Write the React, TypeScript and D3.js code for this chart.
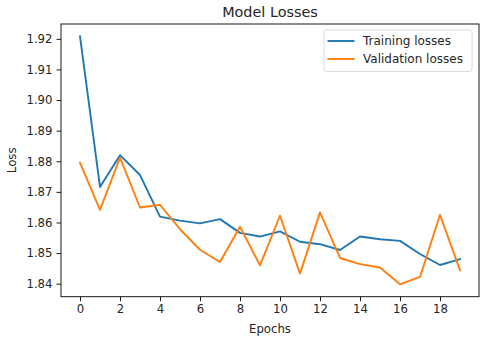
import React, { useEffect, useRef } from 'react';
import * as d3 from 'd3';

const epochs = d3.range(0, 20);
const trainingLosses = [
  1.9208, 1.8716, 1.882, 1.8755, 1.8619, 1.8606, 1.8597, 1.8611, 1.8566, 1.8554,
  1.8571, 1.8537, 1.8529, 1.851, 1.8554, 1.8545, 1.854, 1.8497, 1.8461, 1.848,
];
const validationLosses = [
  1.8795, 1.8641, 1.8812, 1.8649, 1.8658, 1.8578, 1.8511, 1.8471, 1.8586, 1.846,
  1.8622, 1.8433, 1.8633, 1.8484, 1.8464, 1.8453, 1.8398, 1.8422, 1.8625, 1.8444,
];
const xTicks = [0, 2, 4, 6, 8, 10, 12, 14, 16, 18];
const yTicks = [1.84, 1.85, 1.86, 1.87, 1.88, 1.89, 1.9, 1.91, 1.92];
const seriesNames = ['Training losses', 'Validation losses'];
const seriesColors = ['#1f77b4', '#ff7f0e'];

export default function App() {
  const svgRef = useRef<SVGSVGElement>(null);

  useEffect(() => {
    const width = 492;
    const height = 341;
    const margin = { top: 24, right: 13, bottom: 44.3, left: 61 };
    const innerW = width - margin.left - margin.right;
    const innerH = height - margin.top - margin.bottom;
    const font = 'DejaVu Sans, sans-serif';

    const svg = d3.select(svgRef.current);
    svg.selectAll('*').remove();
    svg.attr('width', width).attr('height', height);

    svg.append('rect').attr('width', width).attr('height', height).attr('fill', '#fff');

    // matplotlib style 5% margins
    const allVals = trainingLosses.concat(validationLosses);
    const yMin = d3.min(allVals)!;
    const yMax = d3.max(allVals)!;
    const yPad = (yMax - yMin) * 0.05;
    const xPad = 19 * 0.05;

    const x = d3.scaleLinear().domain([-xPad, 19 + xPad]).range([0, innerW]);
    const y = d3.scaleLinear().domain([yMin - yPad, yMax + yPad]).range([innerH, 0]);

    const g = svg.append('g').attr('transform', `translate(${margin.left},${margin.top})`);

    // Axes
    const xAxis = g.append('g')
      .attr('transform', `translate(0,${innerH})`)
      .call(d3.axisBottom(x).tickValues(xTicks).tickSize(4.5).tickPadding(4).tickFormat(d3.format('d')));
    const yAxis = g.append('g')
      .call(d3.axisLeft(y).tickValues(yTicks).tickSize(4.5).tickPadding(4).tickFormat(d3.format('.2f')));

    [xAxis, yAxis].forEach(ax => {
      ax.select('.domain').remove();
      ax.selectAll('line').attr('stroke', '#000').attr('stroke-width', 0.9);
      ax.selectAll('text')
        .attr('fill', '#262626')
        .attr('font-family', font)
        .attr('font-size', 11.7);
    });

    // Lines
    const series = [trainingLosses, validationLosses];
    series.forEach((vals, i) => {
      const line = d3.line<number>()
        .x((_, j) => x(epochs[j]))
        .y(d => y(d));
      g.append('path')
        .datum(vals)
        .attr('fill', 'none')
        .attr('stroke', seriesColors[i])
        .attr('stroke-width', 1.9)
        .attr('stroke-linejoin', 'round')
        .attr('stroke-linecap', 'square')
        .attr('d', line);
    });

    // Frame
    g.append('rect')
      .attr('width', innerW)
      .attr('height', innerH)
      .attr('fill', 'none')
      .attr('stroke', '#000')
      .attr('stroke-width', 0.9);

    // Legend
    const legend = g.append('g').attr('transform', `translate(${innerW - 155},${6})`);
    legend.append('rect')
      .attr('width', 148)
      .attr('height', 41.5)
      .attr('rx', 2.5)
      .attr('fill', '#fff')
      .attr('fill-opacity', 0.8)
      .attr('stroke', '#d6d6d6')
      .attr('stroke-width', 0.9);
    seriesNames.forEach((name, i) => {
      const row = legend.append('g').attr('transform', `translate(0,${11 + i * 18})`);
      row.append('line')
        .attr('x1', 3.5).attr('x2', 30.5)
        .attr('stroke', seriesColors[i])
        .attr('stroke-width', 1.9);
      row.append('text')
        .attr('x', 39)
        .attr('dy', '0.35em')
        .attr('font-family', font)
        .attr('font-size', 12)
        .attr('fill', '#262626')
        .text(name);
    });

    // Title and axis labels
    svg.append('text')
      .attr('x', margin.left + innerW / 2)
      .attr('y', 17)
      .attr('text-anchor', 'middle')
      .attr('font-family', font)
      .attr('font-size', 14.4)
      .attr('fill', '#262626')
      .text('Model Losses');

    svg.append('text')
      .attr('x', margin.left + innerW / 2)
      .attr('y', 332.5)
      .attr('text-anchor', 'middle')
      .attr('font-family', font)
      .attr('font-size', 11.7)
      .attr('fill', '#262626')
      .text('Epochs');

    svg.append('text')
      .attr('transform', `translate(16,${margin.top + innerH / 2}) rotate(-90)`)
      .attr('text-anchor', 'middle')
      .attr('font-family', font)
      .attr('font-size', 11.7)
      .attr('fill', '#262626')
      .text('Loss');
  }, []);

  return (
    <div style={{ position: 'absolute', left: 0, top: 0 }}>
      <svg ref={svgRef} style={{ display: 'block' }}></svg>
    </div>
  );
}
